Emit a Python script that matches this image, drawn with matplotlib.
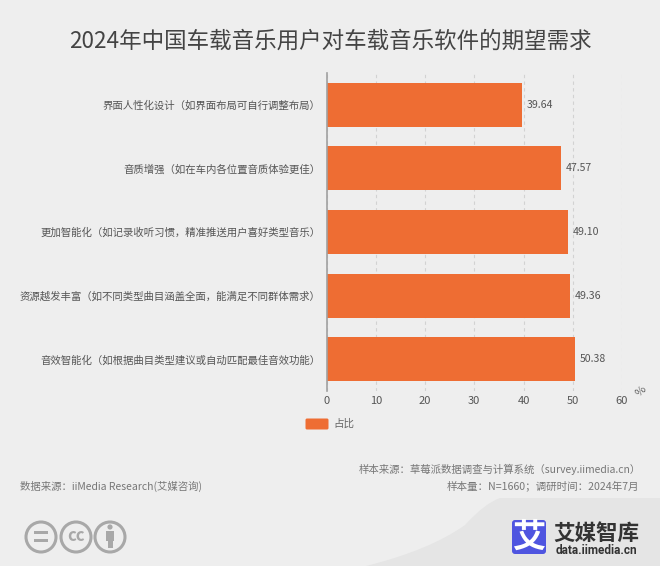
import matplotlib
matplotlib.use("Agg")
import matplotlib.pyplot as plt
from matplotlib.patches import Circle, FancyBboxPatch, PathPatch, Rectangle
from matplotlib.path import Path

plt.rcParams['font.family'] = ['Noto Sans CJK SC', 'DejaVu Sans']

categories = [
    "界面人性化设计（如界面布局可自行调整布局）",
    "音质增强（如在车内各位置音质体验更佳）",
    "更加智能化（如记录收听习惯，精准推送用户喜好类型音乐）",
    "资源越发丰富（如不同类型曲目涵盖全面，能满足不同群体需求）",
    "音效智能化（如根据曲目类型建议或自动匹配最佳音效功能）",
]
values = [39.64, 47.57, 49.10, 49.36, 50.38]
ticks = [0, 10, 20, 30, 40, 50, 60]

BG = "#eeeeee"
ORANGE = "#ee6d33"
W, H = 660, 566


def px_axes(fig, left, top, right, bottom):
    return fig.add_axes([left / W, 1 - bottom / H, (right - left) / W, (bottom - top) / H])


def main():
    fig = plt.figure(figsize=(6.6, 5.66), dpi=100, facecolor=BG)

    # background layer in pixel coords, for footer and logo
    bg = fig.add_axes([0, 0, 1, 1], zorder=0)
    bg.set_xlim(0, W)
    bg.set_ylim(H, 0)
    bg.axis("off")

    corner = Path(
        [(366, 566), (430, 550), (465, 525), (485, 503), (500, 498), (660, 498), (660, 566), (366, 566)],
        [Path.MOVETO, Path.CURVE3, Path.CURVE3, Path.CURVE3, Path.CURVE3, Path.LINETO, Path.LINETO, Path.CLOSEPOLY],
    )
    bg.add_patch(PathPatch(corner, fc="#e5e5e5", ec="none"))

    # cc badges
    for cx in (41, 76, 110):
        bg.add_patch(Circle((cx, 537), 15, fc="none", ec="#a8a8a8", lw=2.2))
    bg.add_patch(Rectangle((34, 531), 14, 2.6, fc="#a8a8a8", ec="none"))
    bg.add_patch(Rectangle((34, 539), 14, 2.6, fc="#a8a8a8", ec="none"))
    bg.text(76, 536, "cc", fontsize=12, color="#a8a8a8", ha="center", va="center", fontweight="bold")
    bg.add_patch(Circle((110, 527), 2.6, fc="#a8a8a8", ec="none"))
    bg.add_patch(Rectangle((106, 531), 8, 10, fc="#a8a8a8", ec="none"))
    bg.add_patch(Rectangle((107.5, 541), 5, 7, fc="#a8a8a8", ec="none"))

    # logo
    bg.add_patch(FancyBboxPatch((515, 523), 28, 28, boxstyle="round,pad=3", fc="#4f55e0", ec="none"))
    bg.text(529, 537, "艾", fontsize=24, color="white", ha="center", va="center", fontweight="bold")
    bg.text(596, 533, "艾媒智库", fontsize=15.5, color="#333333", ha="center", va="center", fontweight="bold")
    bg.text(596, 550, "data.iimedia.cn", fontsize=8.5, color="#333333", ha="center", va="center",
            fontweight="bold", family=["Roboto", "DejaVu Sans"])

    # footer
    bg.text(20, 486, "数据来源：iiMedia Research(艾媒咨询)", fontsize=7.5, color="#777777", ha="left", va="center")
    bg.text(641, 469, "样本来源：草莓派数据调查与计算系统（survey.iimedia.cn）", fontsize=7.5, color="#777777",
            ha="right", va="center")
    bg.text(639, 486, "样本量：N=1660；调研时间：2024年7月", fontsize=7.6, color="#777777", ha="right", va="center")

    # title
    bg.text(330, 41, "2024年中国车载音乐用户对车载音乐软件的期望需求", fontsize=16.2, color="#444444",
            ha="center", va="center")

    # legend
    bg.add_patch(FancyBboxPatch((307, 420), 20, 8, boxstyle="round,pad=1.5", fc=ORANGE, ec="none"))
    bg.text(333, 424, "占比", fontsize=7.6, color="#666666", ha="left", va="center")

    # chart
    ax = px_axes(fig, 326.5, 73, 622, 391)
    ax.set_zorder(1)
    ax.patch.set_alpha(0)
    y = list(range(len(categories)))
    bars = ax.barh(y, values, height=0.69, color=ORANGE, zorder=3)
    ax.set_xlim(0, 60)
    ax.set_ylim(len(categories) - 0.5, -0.5)
    ax.set_yticks(y, categories)
    ax.set_xticks(ticks)
    ax.grid(axis="x", color="#d2d2d2", ls=(0, (3, 3)), lw=0.8, zorder=0)
    ax.set_axisbelow(True)
    for side in ("top", "right", "bottom"):
        ax.spines[side].set_visible(False)
    ax.spines["left"].set_color("#a0a0a0")
    ax.spines["left"].set_linewidth(1.2)
    ax.spines["left"].set_zorder(4)
    ax.tick_params(axis="y", length=0, pad=4.5, labelsize=7.5, labelcolor="#555555")
    ax.tick_params(axis="x", length=0, pad=3.5, labelsize=8, labelcolor="#555555")
    ax.bar_label(bars, labels=[f"{v:.2f}" for v in values], padding=3.5, fontsize=7.6, color="#555555")

    bg.text(641, 391, "%", fontsize=8, color="#666666", rotation=45, ha="center", va="center")

    fig.savefig("out.png", dpi=100, facecolor=BG)
    return 0


if __name__ == "__main__":
    main()
